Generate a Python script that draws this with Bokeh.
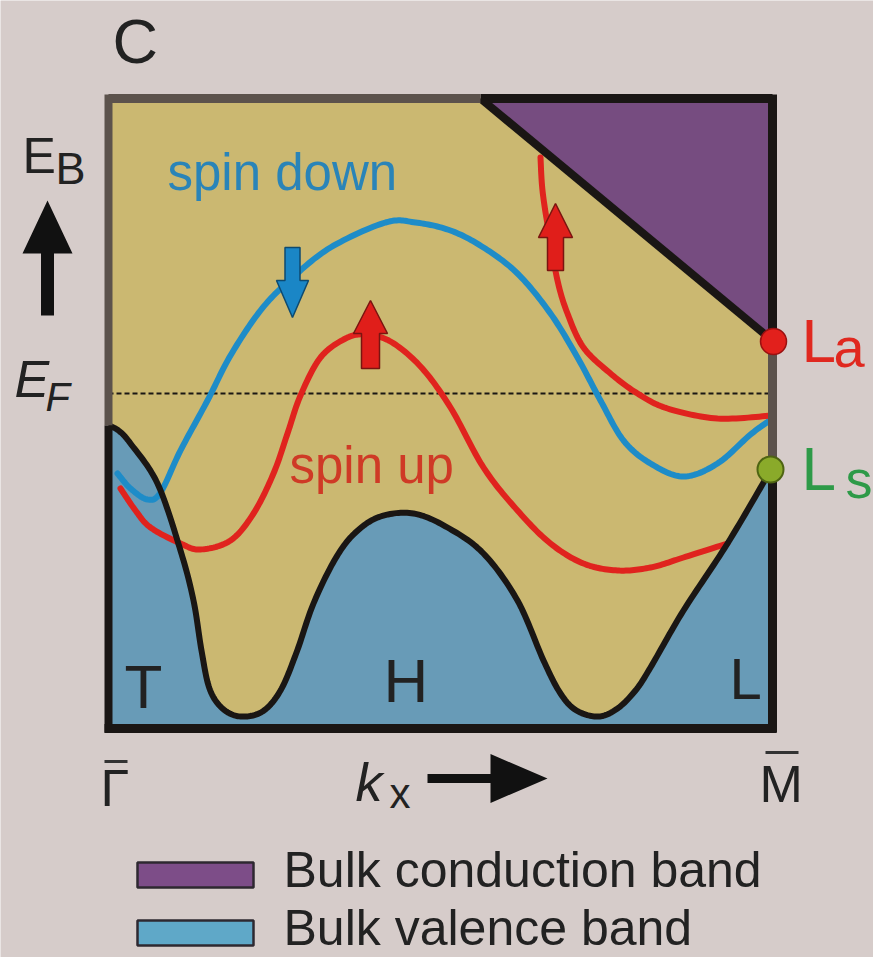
import numpy as np
from bokeh.plotting import figure
from bokeh.models import Range1d
from bokeh.core.properties import value
from bokeh.embed import file_html
from bokeh.resources import INLINE

# ---- schematic band diagram, drawn in screen-like units (y grows downward) ----
FONT = "Liberation Sans"

# frame of the k-E panel: Gamma-bar on the left, M-bar on the right
frame_x = [108, 772]
frame_y = [98, 728]
fermi_level = 393

# edge of the bulk valence band (upper boundary of the blue region)
valence_x = [108, 118, 130, 157, 180, 193, 201, 209, 222, 240, 262, 280, 296, 313,
             335, 355, 380, 413, 447, 483, 517, 543, 560, 576, 598, 617, 635, 650,
             683, 727, 770]
valence_y = [425, 430, 443, 483, 550, 600, 650, 688, 708, 716, 711, 690, 652, 603,
             558, 532, 516, 513, 527, 553, 600, 660, 693, 710, 716, 708, 690, 667,
             610, 543, 470]

# edge of the bulk conduction band (straight line to the La point)
conduction_x = [480, 772, 772]
conduction_y = [98, 98, 341]

# spin-down surface state
spin_down_x = [117, 130, 147, 160, 180, 207, 230, 260, 290, 330, 385, 415, 450, 483,
               517, 550, 577, 600, 623, 650, 683, 717, 750, 772]
spin_down_y = [473, 488, 499, 492, 450, 400, 355, 310, 279, 247, 222, 222, 230, 247,
               273, 313, 357, 400, 440, 463, 476, 463, 434, 418]

# lower spin-up surface state
spin_up_x = [120, 135, 150, 180, 200, 230, 253, 273, 287, 300, 320, 345, 365, 390,
             420, 450, 483, 517, 550, 583, 617, 650, 683, 727]
spin_up_y = [488, 510, 527, 543, 549, 540, 513, 473, 433, 395, 357, 338, 334, 341,
             366, 407, 467, 510, 543, 563, 570, 567, 557, 543]

# upper spin-up state, leaving the conduction band
spin_up2_x = [540, 542, 548, 557, 567, 583, 610, 637, 667, 717, 772]
spin_up2_y = [157, 190, 230, 280, 313, 347, 373, 393, 408, 418, 415]

# band-edge points at M-bar
La_point = (773, 341)
Ls_point = (770, 469)

BG = "#d6ccca"
TAN = "#cbb871"
PURPLE = "#764c80"
VALENCE = "#689bb7"
RED = "#e0231e"
BLUE = "#1e8cc8"
GRAY_EDGE = "#5c524c"
INK = "#1a1614"


def smooth(xs, ys, n=16):
    """Catmull-Rom curve through the given control points."""
    pts = np.column_stack([xs, ys]).astype(float)
    p = np.vstack([pts[0], pts, pts[-1]])
    t = np.linspace(0, 1, n, endpoint=False)[:, None]
    segs = []
    for i in range(1, len(p) - 2):
        p0, p1, p2, p3 = p[i - 1], p[i], p[i + 1], p[i + 2]
        segs.append(0.5 * (2 * p1 + (-p0 + p2) * t
                           + (2 * p0 - 5 * p1 + 4 * p2 - p3) * t ** 2
                           + (-p0 + 3 * p1 - 3 * p2 + p3) * t ** 3))
    segs.append(p[-2][None, :])
    out = np.vstack(segs)
    return out[:, 0], out[:, 1]


def block_arrow(tx, ty, direction, head_w, head_len, shaft_w, length):
    """Polygon of a fat arrow with its tip at (tx, ty)."""
    if direction in ("up", "down"):
        s = 1 if direction == "up" else -1
        hb = ty + s * head_len
        end = ty + s * length
        xs = [tx, tx + head_w / 2, tx + shaft_w / 2, tx + shaft_w / 2,
              tx - shaft_w / 2, tx - shaft_w / 2, tx - head_w / 2]
        ys = [ty, hb, hb, end, end, hb, hb]
    else:
        hb = tx - head_len
        end = tx - length
        ys = [ty, ty + head_w / 2, ty + shaft_w / 2, ty + shaft_w / 2,
              ty - shaft_w / 2, ty - shaft_w / 2, ty - head_w / 2]
        xs = [tx, hb, hb, end, end, hb, hb]
    return xs, ys


p = figure(width=873, height=957, x_range=Range1d(0, 873), y_range=Range1d(957, 0),
           output_backend="svg", toolbar_location=None, min_border=0,
           x_axis_location=None, y_axis_location=None,
           background_fill_color=BG, border_fill_color=BG)
p.grid.visible = False
p.outline_line_color = None

L, R = frame_x
T, B = frame_y

# gap region
p.quad(left=[L], right=[R], top=[T], bottom=[B], fill_color=TAN, line_color=None)

# bulk conduction band
p.patch(conduction_x, conduction_y, fill_color=PURPLE, line_color=None)

# bulk valence band
vx, vy = smooth(valence_x, valence_y)
p.patch(list(vx) + [R, L], list(vy) + [B, B], fill_color=VALENCE, line_color=None)

# Fermi level
p.line([L, R], [fermi_level, fermi_level], line_color=INK, line_width=2.2,
       line_dash="5 3")

# surface states
for xs, ys, col in ((spin_down_x, spin_down_y, BLUE),
                    (spin_up_x, spin_up_y, RED),
                    (spin_up2_x, spin_up2_y, RED)):
    sx, sy = smooth(xs, ys)
    p.line(sx, sy, line_color=col, line_width=6, line_cap="round", line_join="round")

# band edges and frame
p.line(vx, vy, line_color=INK, line_width=6, line_join="round")
p.line(conduction_x[:2], [T, T], line_color=INK, line_width=9)
p.line([conduction_x[0], La_point[0]], [T, La_point[1]], line_color=INK, line_width=8)
p.line([R, R], [T - 4, La_point[1]], line_color=INK, line_width=9)
p.line([L, conduction_x[0]], [T, T], line_color=GRAY_EDGE, line_width=9)
p.line([L, L], [T - 4, valence_y[0]], line_color=GRAY_EDGE, line_width=8)
p.line([R, R], [La_point[1], Ls_point[1]], line_color=GRAY_EDGE, line_width=9)
p.line([L, L], [valence_y[0], B + 4], line_color=INK, line_width=8)
p.line([R, R], [Ls_point[1], B + 4], line_color=INK, line_width=9)
p.line([L - 4, R + 4], [B, B], line_color=INK, line_width=9)

# spin arrows
arrows = [
    (block_arrow(292, 317, "down", 32, 37, 15, 70), "#1a86c6", "#0e4a70"),
    (block_arrow(370, 300, "up", 34, 33, 18, 68), "#e01e1a", "#7a1410"),
    (block_arrow(555, 203, "up", 34, 34, 16, 67), "#e01e1a", "#7a1410"),
]
for (ax, ay), fc, lc in arrows:
    p.patch(ax, ay, fill_color=fc, line_color=lc, line_width=1.5)

# axis arrows
ebx, eby = block_arrow(47, 200, "up", 50, 53, 13, 115)
p.patch(ebx, eby, fill_color="#111111", line_color=None)
kx, ky = block_arrow(547, 778, "right", 49, 57, 9, 120)
p.patch(kx, ky, fill_color="#111111", line_color=None)

# La / Ls points
p.scatter([La_point[0]], [La_point[1]], size=26, fill_color="#e2201c",
          line_color="#9a1010", line_width=1.5)
p.scatter([Ls_point[0]], [Ls_point[1]], size=26, fill_color="#8aaa2a",
          line_color="#4e6412", line_width=2)


def label(x, y, txt, size, color="#222222", style="normal"):
    """Place text so that its baseline sits at y."""
    p.text([x], [y - 0.35 * size], text=[txt], text_font=value(FONT),
           text_font_size=value(f"{size}px"), text_color=color,
           text_font_style=style, text_align="left", text_baseline="middle")


label(112, 63, "C", 63)
label(22, 173, "E", 50)
label(55, 184, "B", 45)
label(14, 397, "E", 52, style="italic")
label(45, 410, "F", 40, style="italic")

label(167, 190, "spin down", 51, color="#2a84b8")
label(289, 483, "spin up", 51, color="#cf3a26")

label(124, 708, "T", 62)
label(383, 702, "H", 62)
label(729, 698, "L", 58)

label(801, 362, "L", 62, color="#e0281f")
label(833, 367, "a", 56, color="#e0281f")
label(801, 490, "L", 62, color="#2e9a48")
label(845, 497, "s", 54, color="#2e9a48")

# k-axis end points and label
label(100, 806, "\u0393", 52)
p.line([104, 127], [761, 761], line_color="#333333", line_width=3)
label(759, 802, "M", 52)
p.line([765, 798], [752, 752], line_color="#333333", line_width=3)
label(355, 800, "k", 54, style="italic")
label(389, 808, "x", 42)

# legend
legend_items = ["Bulk conduction band", "Bulk valence band"]
legend_colors = ["#7d4d88", "#5fa8c8"]
legend_baselines = [887, 945]
for i, (txt, col) in enumerate(zip(legend_items, legend_colors)):
    y0 = 862 + 58 * i
    p.quad(left=[137], right=[253], top=[y0], bottom=[y0 + 25], fill_color=col,
           line_color="#2e2830", line_width=2.5)
    label(283, legend_baselines[i], txt, 50)

open("out.html", "w").write(file_html(p, INLINE))
